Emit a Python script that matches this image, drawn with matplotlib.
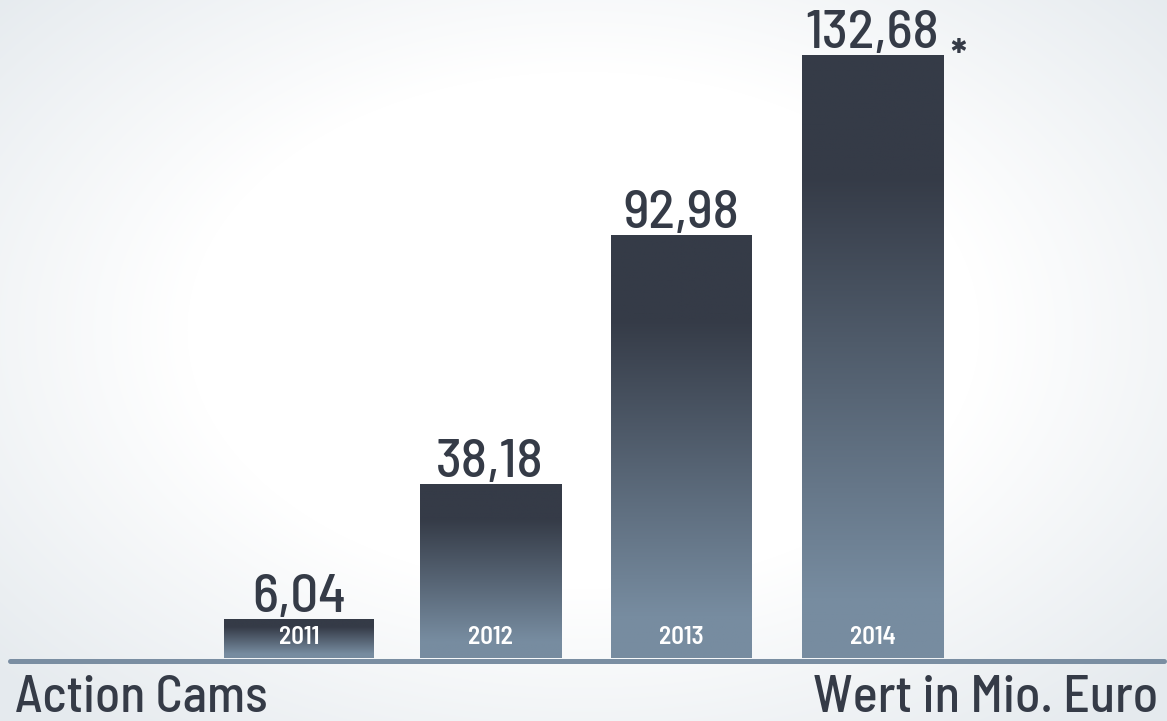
import numpy as np
import matplotlib
matplotlib.use("Agg")
import matplotlib.pyplot as plt
from matplotlib.colors import LinearSegmentedColormap

years = ["2011", "2012", "2013", "2014"]
values = [6.04, 38.18, 92.98, 132.68]
value_labels = ["6,04", "38,18", "92,98", "132,68"]
title_left = "Action Cams"
title_right = "Wert in Mio. Euro"
note_mark = "*"

W, H = 1167, 721
fig = plt.figure(figsize=(W / 100, H / 100), dpi=100)
ax = fig.add_axes([0, 0, 1, 1])
ax.axis("off")

base_px = 658
px_per_unit_y = (base_px - 55) / 132.68
px_per_unit_x = 191.17
x0px = 299
xlim = (-x0px / px_per_unit_x, (W - x0px) / px_per_unit_x)
ylim = (-(H - base_px) / px_per_unit_y, base_px / px_per_unit_y)
ax.set_xlim(*xlim)
ax.set_ylim(*ylim)

# background radial gradient
yy, xx = np.mgrid[0:H, 0:W]
r = np.sqrt(((xx - 583) / 720.0) ** 2 + ((yy - 330) / 470.0) ** 2)
t = np.clip((r - 0.55) / 0.55, 0, 1)
c_in = np.array([1.0, 1.0, 1.0])
c_out = np.array([0xe5, 0xea, 0xee]) / 255
bg = c_in[None, None, :] * (1 - t[..., None]) + c_out[None, None, :] * t[..., None]
ax.imshow(bg, extent=(xlim[0], xlim[1], ylim[0], ylim[1]), aspect="auto", zorder=0, origin="upper")

dark = "#353b47"
light = "#778ca0"
cmap = LinearSegmentedColormap.from_list("bar", [(0, dark), (0.2, dark), (0.9, light), (1.0, light)])
grad = np.linspace(0, 1, 256)[:, None]

# bars keep a minimum drawn height so the year label fits inside
min_bar_px = 39
fam = ["Barlow Semi Condensed", "Barlow Condensed", "DejaVu Sans"]
widths = [150 / px_per_unit_x] + [141 / px_per_unit_x] * 3
for i, (v, w) in enumerate(zip(values, widths)):
    hv = max(v, min_bar_px / px_per_unit_y)
    ax.bar(i, hv, width=w, color="none", zorder=2)
    ax.imshow(grad, cmap=cmap, extent=(i - w / 2, i + w / 2, 0, hv), aspect="auto",
              origin="upper", zorder=2, vmin=0, vmax=1)
    ax.annotate(value_labels[i], (i, hv), xytext=(0, 7), textcoords="offset pixels",
                ha="center", va="baseline", fontsize=39.5, color=dark, family=fam,
                fontweight="medium", zorder=3)
    ax.annotate(years[i], (i, 0), xytext=(0, 14), textcoords="offset pixels",
                ha="center", va="baseline", fontsize=18, color="white", family=fam,
                fontweight="semibold", zorder=3)

# asterisk next to last value
ax.annotate(note_mark, (len(values) - 1 + widths[-1] / 2, values[-1]), xytext=(15, -4),
            textcoords="offset pixels", ha="center", va="center", fontsize=30,
            color=dark, family=fam, fontweight="bold", zorder=3)

# baseline
ax.plot([10 / px_per_unit_x + xlim[0], 1164 / px_per_unit_x + xlim[0]],
        [-2.5 / px_per_unit_y] * 2, color="#7a8ea2", lw=3.6, solid_capstyle="round", zorder=3)

fig.text(15 / W, 1 - 712 / H, title_left, ha="left", va="baseline", fontsize=37,
         color=dark, family=fam, fontweight="medium")
fig.text(1158 / W, 1 - 712 / H, title_right, ha="right", va="baseline", fontsize=37.5,
         color=dark, family=fam, fontweight="medium")

ax.set_xlim(*xlim)
ax.set_ylim(*ylim)
fig.savefig("out.png", dpi=100)
